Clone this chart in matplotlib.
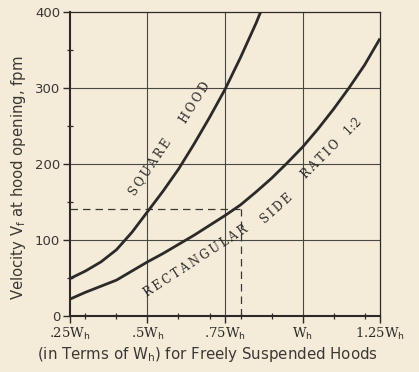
import matplotlib
matplotlib.use("Agg")
import matplotlib.pyplot as plt
import numpy as np

# Data
square_x = [0.25, 0.30, 0.35, 0.40, 0.45, 0.50, 0.55, 0.60, 0.65, 0.70, 0.75, 0.80, 0.85, 0.865]
square_y = [49, 59, 71, 87, 110, 137, 164, 193, 226, 261, 298, 340, 385, 400]

rect_x = [0.25, 0.30, 0.35, 0.40, 0.45, 0.50, 0.55, 0.60, 0.65, 0.70, 0.75,
          0.80, 0.85, 0.90, 0.95, 1.00, 1.05, 1.10, 1.15, 1.20, 1.25]
rect_y = [22, 31, 39, 47, 59, 71, 82, 94, 106, 119, 132,
          146, 163, 181, 201, 222, 246, 272, 300, 330, 365]

xticks = [0.25, 0.5, 0.75, 1.0, 1.25]
xtick_labels = [r'.25W$_\mathrm{h}$', r'.5W$_\mathrm{h}$', r'.75W$_\mathrm{h}$',
                r'W$_\mathrm{h}$', r'1.25W$_\mathrm{h}$']
yticks = [0, 100, 200, 300, 400]

ref_x = 0.80
ref_y = 141

bg = '#f4ecd9'
ink = '#2b2a28'

fig = plt.figure(figsize=(4.19, 3.72), dpi=100, facecolor=bg)
ax = fig.add_axes([0.167, 0.151, 0.740, 0.817])
ax.set_facecolor(bg)

ax.set_xlim(0.25, 1.25)
ax.set_ylim(0, 400)

# grid lines
for gx in [0.5, 0.75, 1.0]:
    ax.axvline(gx, color='#4a4844', lw=0.8, zorder=1)
for gy in [100, 200, 300]:
    ax.axhline(gy, color='#4a4844', lw=0.8, zorder=1)

# curves
ax.plot(square_x, square_y, color=ink, lw=2.0, zorder=3, solid_capstyle='butt')
ax.plot(rect_x, rect_y, color=ink, lw=2.0, zorder=3, solid_capstyle='butt')

# dashed reference lines
ax.plot([0.25, ref_x], [ref_y, ref_y], color='#3a3835', lw=0.9, ls=(0, (6, 4)), zorder=2)
ax.plot([ref_x, ref_x], [0, ref_y], color='#3a3835', lw=0.9, ls=(0, (6, 4)), zorder=2)

for s in ax.spines.values():
    s.set_color(ink)
ax.spines['left'].set_linewidth(1.5)
ax.spines['bottom'].set_linewidth(1.5)
ax.spines['top'].set_linewidth(0.9)
ax.spines['right'].set_linewidth(0.9)

ax.set_xticks(xticks)
ax.set_xticklabels(xtick_labels, fontsize=9.5, family='DejaVu Serif', color=ink)
ax.set_yticks(yticks)
ax.set_yticklabels([str(v) for v in yticks], fontsize=9.5, color='#3a3835')
ax.set_xticks(np.arange(0.3, 1.25, 0.1), minor=True)
ax.set_yticks([50, 150, 250, 350], minor=True)
ax.tick_params(axis='both', which='major', direction='out', length=5, width=1.0, color=ink, pad=2)
ax.tick_params(axis='both', which='minor', direction='inout', length=5, width=0.9, color=ink)

ax.set_ylabel(r'Velocity V$_\mathrm{f}$ at hood opening, fpm', fontsize=10.7, color='#3a3835',
              va='center')
ax.yaxis.set_label_coords(-0.165, 0.454)
ax.set_xlabel(r'(in Terms of W$_\mathrm{h}$) for Freely Suspended Hoods', fontsize=10.8, color='#3a3835',
              va='center')
ax.xaxis.set_label_coords(0.442, -0.128)


def spaced(s):
    return '\u2009'.join(s)


# curve labels
lab = dict(family='DejaVu Serif', fontsize=8.5, color=ink, ha='center', va='center',
           rotation_mode='anchor', zorder=4)
ax.text(0.507, 196, spaced('SQUARE'), rotation=56, **lab)
ax.text(0.655, 280, spaced('HOOD'), rotation=58, **lab)
ax.text(0.655, 72, spaced('RECTANGULAR'), rotation=33, **lab)
ax.text(0.916, 141, spaced('SIDE'), rotation=42, **lab)
ax.text(1.095, 220, spaced('RATIO') + '\u2003' + '1:2', rotation=45, **lab)

fig.savefig('out.png', dpi=100, facecolor=bg)
